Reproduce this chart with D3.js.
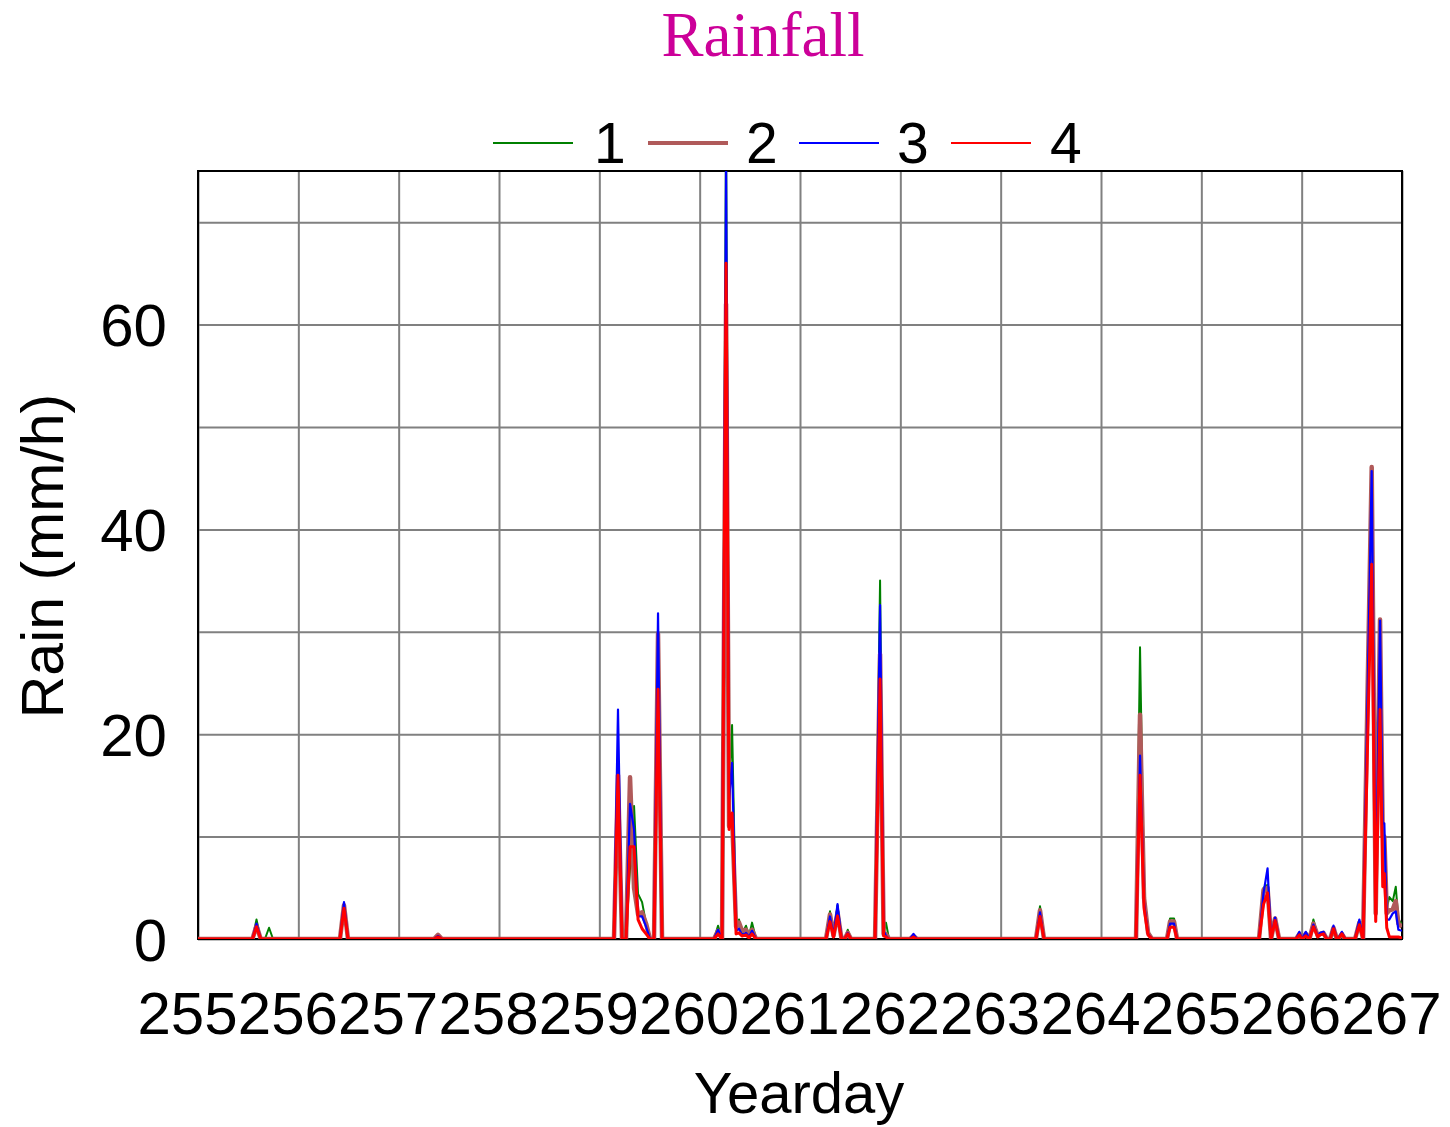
<!DOCTYPE html>
<html>
<head>
<meta charset="utf-8">
<script src="https://cdn.jsdelivr.net/npm/d3@7"></script>
<style>
  html, body { margin: 0; padding: 0; background: #fff; }
  svg { display: block; }
</style>
</head>
<body>
<svg id="chart" width="1450" height="1127"></svg>
<script>
// ---- Data ----
const seriesNames = ["1", "2", "3", "4"];
const seriesColors = ["#008000", "#b05a5a", "#0000ff", "#ff0000"];
const xTicks = [255, 256, 257, 258, 259, 260, 261, 262, 263, 264, 265, 266, 267];
const yGridTicks = [0, 10, 20, 30, 40, 50, 60, 70];
const yLabelTicks = [0, 20, 40, 60];

const yearday = [
  255.000, 255.543, 255.583, 255.625, 255.667, 255.708, 255.748,
  256.415, 256.455, 256.495,
  257.352, 257.392, 257.432,
  259.146, 259.186, 259.226, 259.266, 259.306, 259.346, 259.386, 259.426, 259.466, 259.505,
  259.545, 259.585, 259.625,
  260.143, 260.183, 260.223, 260.263, 260.293, 260.323, 260.363, 260.392, 260.422, 260.462, 260.492, 260.522, 260.562,
  261.259, 261.299, 261.334, 261.374, 261.414, 261.444, 261.476, 261.509,
  261.748, 261.798, 261.833, 261.857, 261.887,
  262.096, 262.131, 262.166,
  263.352, 263.392, 263.432,
  264.349, 264.389, 264.429, 264.469, 264.509,
  264.658, 264.688, 264.728, 264.758,
  265.575, 265.620, 265.660, 265.695, 265.735, 265.775,
  265.944, 265.977, 266.004, 266.041, 266.077, 266.117, 266.161, 266.184, 266.217, 266.251,
  266.284, 266.317, 266.351, 266.364, 266.401, 266.432,
  266.532, 266.575, 266.612, 266.698, 266.738, 266.781, 266.808, 266.824, 266.848,
  266.874, 266.908, 266.938, 266.964, 267.000
];

const rain1 = [
  0, 0, 1.9, 0, 0, 1.1, 0,
  0, 3.3, 0,
  0, 0.4, 0,
  0, 16, 0, 0, 7, 13, 4.4, 3.6, 1.5, 0,
  0, 29.5, 0,
  0, 1.3, 0, 80, 14, 20.9, 1.0, 1.9, 0.5, 1.3, 0.3, 1.6, 0,
  0, 2.7, 0.3, 3.3, 0, 0, 0.9, 0,
  0, 35, 0.5, 1.6, 0,
  0, 0.3, 0,
  0, 3.2, 0,
  0, 28.5, 4.5, 0.8, 0,
  0, 2.0, 2.0, 0,
  0, 5.0, 5.3, 0, 2.0, 0,
  0, 0.4, 0, 0.5, 0, 1.9, 0.3, 0.5, 0.6, 0,
  0, 1.1, 0, 0, 0.5, 0,
  0, 1.5, 0, 45, 2.5, 30, 10, 10, 3,
  4.1, 3.7, 5.1, 1.9, 1.5
];

const rain2 = [
  0, 0, 1.3, 0, 0, 0, 0,
  0, 3.3, 0,
  0, 0.4, 0,
  0, 16, 0, 0, 15.8, 5, 2.4, 2.6, 1.5, 0,
  0, 29.8, 0,
  0, 0.8, 0, 62, 11, 12, 1.2, 1.6, 0.8, 0.9, 0.3, 0.9, 0,
  0, 2.4, 0.3, 2.6, 0, 0, 0.6, 0,
  0, 27.8, 0.5, 0.5, 0,
  0, 0.3, 0,
  0, 2.8, 0,
  0, 21.9, 4, 0.6, 0,
  0, 1.7, 1.7, 0,
  0, 4.8, 5, 0, 2.0, 0,
  0, 0.5, 0, 0.5, 0, 1.5, 0.3, 0.5, 0.6, 0,
  0, 1.1, 0, 0, 0.5, 0,
  0, 1.6, 0, 46.1, 2.5, 31.2, 10, 10, 2.5,
  2.8, 2.9, 3.7, 1.5, 1.2
];

const rain3 = [
  0, 0, 1.5, 0, 0, 0, 0,
  0, 3.6, 0,
  0, 0.3, 0,
  0, 22.4, 0, 0, 13.2, 10.7, 2.2, 2.2, 1.2, 0,
  0, 31.8, 0,
  0, 0.9, 0, 76, 13.6, 17.2, 0.8, 1.0, 0.4, 0.6, 0.2, 0.8, 0,
  0, 2.2, 0.3, 3.4, 0, 0, 0.6, 0,
  0, 32.6, 0.8, 0.3, 0,
  0, 0.5, 0,
  0, 2.6, 0,
  0, 17.9, 3.5, 0.5, 0,
  0, 1.5, 1.5, 0,
  0, 4.5, 6.9, 0, 2.1, 0,
  0, 0.7, 0, 0.7, 0, 1.4, 0.3, 0.6, 0.7, 0,
  0, 1.3, 0, 0, 0.7, 0,
  0, 1.9, 0, 45.7, 3, 31.1, 11.3, 11.3, 1.9,
  1.9, 2.5, 2.7, 0.9, 0.8
];

const rain4 = [
  0, 0, 1.2, 0, 0, 0, 0,
  0, 3.0, 0,
  0, 0.2, 0,
  0, 16, 0, 0, 9.0, 9.0, 1.9, 1.0, 0.5, 0,
  0, 24.4, 0,
  0, 0.5, 0, 66, 10.7, 12.3, 0.5, 0.6, 0.3, 0.4, 0.1, 0.5, 0,
  0, 1.7, 0.2, 2.25, 0, 0, 0.5, 0,
  0, 25.4, 0.3, 0.2, 0,
  0, 0.2, 0,
  0, 2.2, 0,
  0, 16.0, 3, 0.4, 0,
  0, 1.15, 1.15, 0,
  0, 3.4, 4.5, 0, 1.8, 0,
  0, 0.4, 0, 0.3, 0, 1.2, 0.2, 0.4, 0.5, 0,
  0, 1.0, 0, 0, 0.5, 0,
  0, 1.4, 0, 36.6, 1.7, 22.4, 5.1, 6.4, 1.1,
  0.2, 0.2, 0.2, 0.2, 0.1
];

const seriesValues = [rain1, rain2, rain3, rain4];
const seriesWidths = [2, 4.5, 2.2, 3];

// ---- Layout ----
const svg = d3.select("#chart");
const margin = { left: 198, top: 171, right: 48, bottom: 188 };
const W = 1450, H = 1127;
const pw = W - margin.left - margin.right;   // 1204
const ph = H - margin.top - margin.bottom;   // 768

const x = d3.scaleLinear().domain([255, 267]).range([0, pw]);
const y = d3.scaleLinear().domain([0, 75]).range([ph, 0]);

const font = "'Liberation Sans', Arial, Helvetica, sans-serif";

const g = svg.append("g").attr("transform", `translate(${margin.left},${margin.top})`);

// Gridlines
g.append("g")
  .attr("transform", `translate(0,${ph})`)
  .call(d3.axisBottom(x).tickValues(xTicks).tickSize(-ph).tickFormat(""))
  .call(s => s.select(".domain").remove())
  .call(s => s.selectAll("line").attr("stroke", "#808080").attr("stroke-width", 2));

g.append("g")
  .call(d3.axisLeft(y).tickValues(yGridTicks).tickSize(-pw).tickFormat(""))
  .call(s => s.select(".domain").remove())
  .call(s => s.selectAll("line").attr("stroke", "#808080").attr("stroke-width", 2));

// Frame
g.append("rect")
  .attr("x", 0).attr("y", 0).attr("width", pw).attr("height", ph)
  .attr("fill", "none").attr("stroke", "#000").attr("stroke-width", 2);

// Clip
svg.append("defs").append("clipPath").attr("id", "plotclip")
  .append("rect").attr("x", 0).attr("y", 0).attr("width", pw).attr("height", ph);

const line = d3.line()
  .x(d => x(d[0]))
  .y(d => y(d[1]));

const plot = g.append("g").attr("clip-path", "url(#plotclip)");
seriesValues.forEach((vals, i) => {
  const pts = yearday.map((t, k) => [t, vals[k]]);
  plot.append("path")
    .datum(pts)
    .attr("fill", "none")
    .attr("stroke", seriesColors[i])
    .attr("stroke-width", seriesWidths[i])
    .attr("stroke-linejoin", "round")
    .attr("d", line);
});

// X axis labels
g.append("g")
  .attr("transform", `translate(0,${ph})`)
  .call(d3.axisBottom(x).tickValues(xTicks).tickSize(0).tickFormat(d3.format("d")))
  .call(s => s.select(".domain").remove())
  .call(s => s.selectAll("text")
    .attr("y", 95).attr("dy", 0).attr("dx", -11)
    .attr("font-family", font).attr("font-size", 60).attr("fill", "#000"));

// Y axis labels
g.append("g")
  .call(d3.axisLeft(y).tickValues(yLabelTicks).tickSize(0).tickFormat(d3.format("d")))
  .call(s => s.select(".domain").remove())
  .call(s => s.selectAll("text")
    .attr("x", -31).attr("dy", "0.35em")
    .attr("font-family", font).attr("font-size", 60).attr("fill", "#000"));

// Axis titles
svg.append("text")
  .attr("x", 799).attr("y", 1113)
  .attr("text-anchor", "middle")
  .attr("font-family", font).attr("font-size", 58)
  .text("Yearday");

svg.append("text")
  .attr("transform", `translate(63,${margin.top + ph / 2 + 1}) rotate(-90)`)
  .attr("text-anchor", "middle")
  .attr("font-family", font).attr("font-size", 59)
  .text("Rain (mm/h)");

// Title
svg.append("text")
  .attr("x", 763).attr("y", 56)
  .attr("text-anchor", "middle")
  .attr("font-family", "'Liberation Serif', 'Times New Roman', serif")
  .attr("font-size", 63).attr("fill", "#cc0099")
  .text("Rainfall");

// Legend
const legendX = [493, 648, 799, 951];
const legendTextX = [594, 746, 897, 1050];
const leg = svg.append("g");
seriesNames.forEach((name, i) => {
  leg.append("line")
    .attr("x1", legendX[i]).attr("x2", legendX[i] + 80)
    .attr("y1", 143).attr("y2", 143)
    .attr("stroke", seriesColors[i])
    .attr("stroke-width", i === 1 ? 4 : 2);
  leg.append("text")
    .attr("x", legendTextX[i]).attr("y", 163)
    .attr("font-family", font).attr("font-size", 57)
    .text(name);
});
</script>
</body>
</html>
